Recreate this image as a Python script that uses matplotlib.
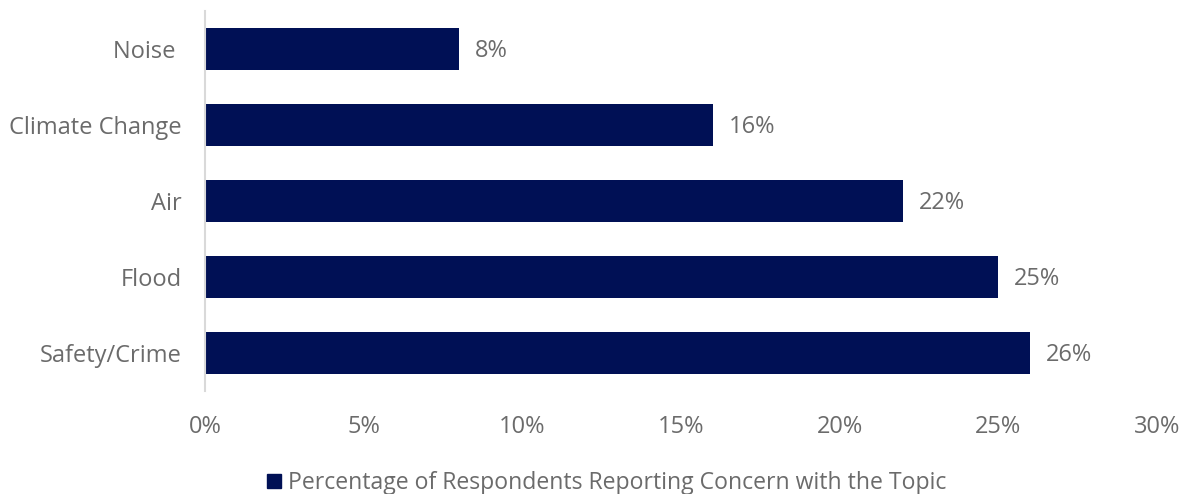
import matplotlib
matplotlib.use("Agg")
import matplotlib.pyplot as plt
from matplotlib.patches import Patch
from matplotlib.ticker import FuncFormatter

plt.rcParams["font.family"] = ["Open Sans", "DejaVu Sans"]

topics = ["Safety/Crime", "Flood", "Air", "Climate Change", "Noise "]
share = [26, 25, 22, 16, 8]
series_name = "Percentage of Respondents Reporting Concern with the Topic"

navy = "#001055"
grey = "#6b6b6b"
fs = 17

fig = plt.figure(figsize=(11.9, 4.94), dpi=100)
ax = fig.add_axes([0.1723, 0.2085, 0.8000, 0.7692])

ax.barh(topics, share, height=0.56, color=navy)
for y, v in enumerate(share):
    ax.text(v + 0.5, y - 0.03, f"{v}%", va="center", ha="left", fontsize=fs,
            color=grey)

ax.set_xlim(0, 30)
ax.set_ylim(-0.5, len(topics) - 0.5)
ax.set_xticks(range(0, 31, 5))
ax.xaxis.set_major_formatter(FuncFormatter(lambda v, _: f"{v:.0f}%"))

for s in ["top", "right", "bottom"]:
    ax.spines[s].set_visible(False)
ax.spines["left"].set_color("#d9d9d9")
ax.spines["left"].set_linewidth(1.5)
ax.tick_params(axis="both", length=0, labelsize=fs, labelcolor=grey)
ax.tick_params(axis="x", pad=17)
ax.tick_params(axis="y", pad=17)

leg = fig.legend(handles=[Patch(color=navy, label=series_name)],
                 loc="center", bbox_to_anchor=(0.51, 0.022), frameon=False,
                 handlelength=0.6, handleheight=0.6, handletextpad=0.3,
                 prop={"size": 16.6})
for t in leg.get_texts():
    t.set_color(grey)

fig.savefig("out.png", dpi=100)
